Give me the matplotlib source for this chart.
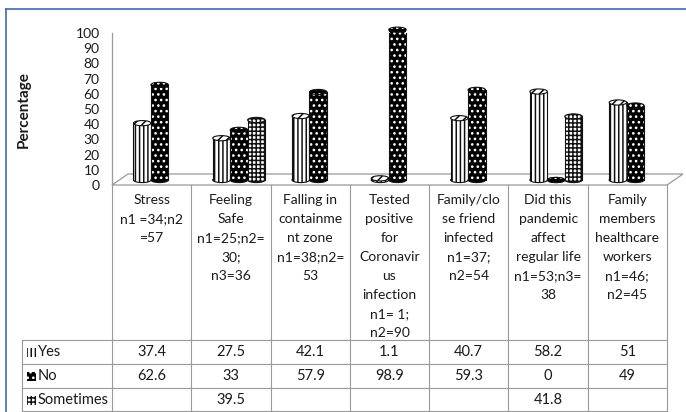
import numpy as np
import matplotlib.pyplot as plt
from matplotlib.patches import Rectangle, Ellipse, Polygon
from matplotlib.lines import Line2D
from matplotlib.transforms import ScaledTranslation, blended_transform_factory

plt.rcParams['font.family'] = ['Lato', 'DejaVu Sans']
plt.rcParams['hatch.linewidth'] = 1.1

# Data-----------------------------------------------------
categories = [
    'Stress\nn1 =34;n2\n=57',
    'Feeling\nSafe\nn1=25;n2=\n30;\nn3=36',
    'Falling in\ncontainme\nnt zone\nn1=38;n2=\n53',
    'Tested\npositive\nfor\nCoronavir\nus\ninfection\nn1= 1;\nn2=90',
    'Family/clo\nse friend\ninfected\nn1=37;\nn2=54',
    'Did this\npandemic\naffect\nregular life\nn1=53;n3=\n38',
    'Family\nmembers\nhealthcare\nworkers\nn1=46;\nn2=45',
]
series_names = ['Yes', 'No', 'Sometimes']
yes_vals = [37.4, 27.5, 42.1, 1.1, 40.7, 58.2, 51]
no_vals = [62.6, 33, 57.9, 98.9, 59.3, 0, 49]
sometimes_vals = [None, 39.5, None, None, None, 41.8, None]
yticks = list(range(0, 101, 10))

# Style-----------------------------------------------------
W, H = 686, 412
fig = plt.figure(figsize=(W / 100, H / 100), dpi=100)
txt_c = '#1a1a1a'


def fx(px):
    return px / W


def fy(px):
    return 1 - px / H


ax = fig.add_axes([fx(112), fy(185), fx(667) - fx(112), fy(33) - fy(185)])
n = len(categories)
ax.set_xlim(-0.5, n - 0.5)
ax.set_ylim(0, 100)
ax.set_yticks(yticks)
ax.set_xticks([])
ax.tick_params(axis='y', length=0, pad=9, labelsize=10, labelcolor=txt_c)
for s in ['top', 'right', 'bottom']:
    ax.spines[s].set_visible(False)
ax.spines['left'].set_color('#9a9a9a')
ax.spines['left'].set_linewidth(0.9)
ax.patch.set_visible(False)

fig.text(fx(24), fy(110), 'Percentage', rotation=90, ha='center', va='center',
         fontsize=11, fontweight='bold', color=txt_c)

# floor (3d depth)
px_per_x = (667 - 112) / n
px_per_y = (185 - 33) / 100
depth_dx = 16 / px_per_x
depth_dy = 11 / px_per_y
floor = Polygon([(-0.5, 0), (n - 0.5, 0), (n - 0.5 + depth_dx, depth_dy), (-0.5 + depth_dx, depth_dy)],
                closed=True, facecolor='white', edgecolor='#9a9a9a', lw=0.9, clip_on=False, zorder=1)
ax.add_patch(floor)

# bars as cylinders
half = ax.transData + ScaledTranslation(0.08, 0.05, fig.dpi_scale_trans)
bar_w = 0.22
cap_h = 3.4
styles = [
    dict(face='white', hcol='#111111', hatch='||||', cap_hatch='////'),
    dict(face='black', hcol='white', hatch='...', cap_hatch='...'),
    dict(face='white', hcol='#111111', hatch='++++', cap_hatch='++++'),
]
all_vals = [yes_vals, no_vals, sometimes_vals]
for k, vals in enumerate(all_vals):
    st = styles[k]
    for i, v in enumerate(vals):
        if v is None:
            continue
        x0 = i + (k - 1) * bar_w - bar_w / 2
        xc = x0 + bar_w / 2
        z = 3 + i * 0.01
        # bottom rounding
        ax.add_patch(Ellipse((xc, 0), bar_w, cap_h, transform=half, facecolor=st['face'],
                             edgecolor=st['hcol'], hatch=st['hatch'], lw=0, clip_on=False, zorder=z))
        ax.add_patch(Ellipse((xc, 0), bar_w, cap_h, transform=half, fill=False,
                             edgecolor='#111111', lw=0.8, clip_on=False, zorder=z))
        ax.add_patch(Rectangle((x0, 0), bar_w, v, transform=half, facecolor=st['face'],
                               edgecolor=st['hcol'], hatch=st['hatch'], lw=0, clip_on=False, zorder=z))
        ax.add_line(Line2D([x0, x0], [0, v], transform=half, color='#111111', lw=0.8, zorder=z))
        ax.add_line(Line2D([x0 + bar_w, x0 + bar_w], [0, v], transform=half, color='#111111', lw=0.8, zorder=z))
        ax.add_patch(Ellipse((xc, v), bar_w, cap_h, transform=half, facecolor=st['face'],
                             edgecolor=st['hcol'], hatch=st['cap_hatch'], lw=0, clip_on=False, zorder=z))
        ax.add_patch(Ellipse((xc, v), bar_w, cap_h, transform=half, fill=False,
                             edgecolor='#111111', lw=0.8, clip_on=False, zorder=z))

# data table-------------------------------------------------
line_c = '#9a9a9a'
tx = blended_transform_factory(ax.transData, fig.transFigure)
row_edges = [185, 340, 364, 388, 411]
for i in range(n + 1):
    fig.add_artist(Line2D([i - 0.5, i - 0.5], [fy(185), fy(411)], transform=tx, color=line_c, lw=0.8))
for r in row_edges[1:]:
    fig.add_artist(Line2D([fx(22), fx(667)], [fy(r), fy(r)], transform=fig.transFigure, color=line_c, lw=0.8))
fig.add_artist(Line2D([fx(22), fx(22)], [fy(340), fy(411)], transform=fig.transFigure, color=line_c, lw=0.8))

for i, lab in enumerate(categories):
    fig.text(i, fy(194), lab, transform=tx, ha='center', va='top', fontsize=10,
             linespacing=1.7, color=txt_c)

for k, vals in enumerate(all_vals):
    yc = (row_edges[k + 1] + row_edges[k + 2]) / 2 + 0.5
    for i, v in enumerate(vals):
        if v is None:
            continue
        fig.text(i, fy(yc), '%g' % v, transform=tx, ha='center', va='center', fontsize=10.5, color=txt_c)
    # legend key
    st = styles[k]
    fig.add_artist(Rectangle((fx(27), fy(yc + 4.5)), fx(9), fy(0) - fy(9), transform=fig.transFigure,
                             facecolor=st['face'], edgecolor=st['hcol'], hatch=st['hatch'], lw=0))
    fig.text(fx(38), fy(yc), series_names[k], ha='left', va='center', fontsize=10.5, color=txt_c)

# blue frame
frame_c = '#4169b0'
fig.add_artist(Line2D([fx(6), 1], [fy(9), fy(9)], transform=fig.transFigure, color=frame_c, lw=1.2))
fig.add_artist(Line2D([fx(6), fx(6)], [fy(9), 0], transform=fig.transFigure, color=frame_c, lw=1.2))

fig.savefig('out.png', dpi=100)
